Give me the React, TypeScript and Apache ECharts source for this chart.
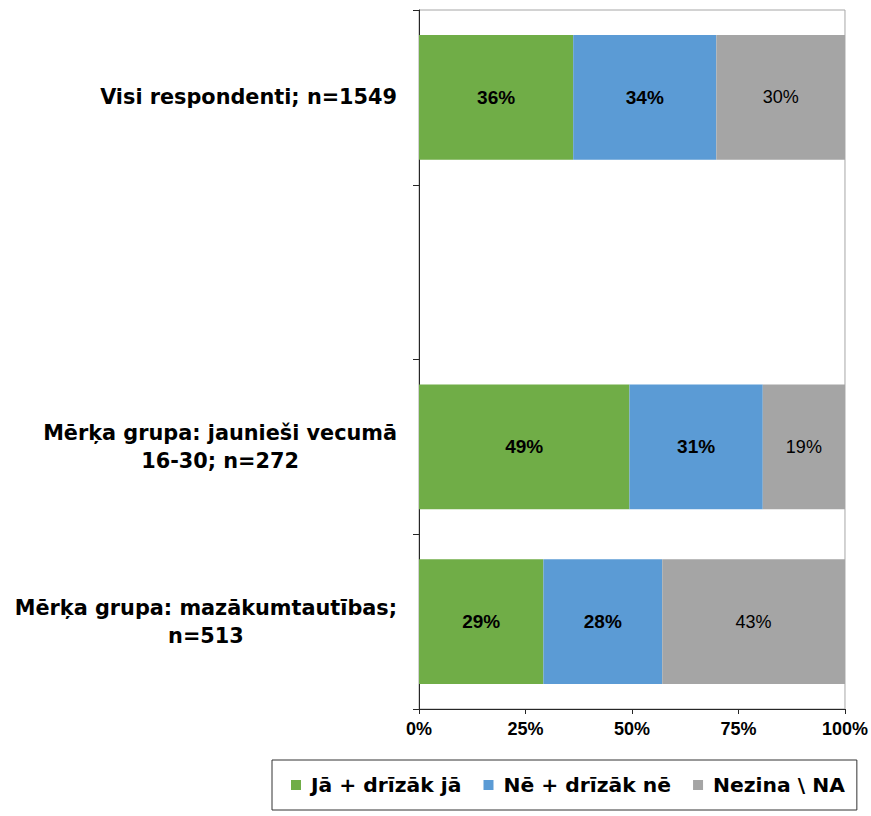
import React, { useEffect, useRef } from "react";
import * as echarts from "echarts";

const categories = [
  "Visi respondenti; n=1549",
  "",
  "Mērķa grupa: jaunieši vecumā\n16-30; n=272",
  "Mērķa grupa: mazākumtautības;\nn=513",
];
const seriesNames = ["Jā + drīzāk jā", "Nē + drīzāk nē", "Nezina \\ NA"];
const yesValues = [36.2, null, 49.4, 29.2];
const noValues = [33.6, null, 31.3, 27.9];
const dkValues = [30.2, null, 19.3, 42.9];
const xTicks = [0, 25, 50, 75, 100];
const colors = ["#70AD47", "#5B9BD5", "#A5A5A5"];

const ARIAL = "Liberation Sans, Arial, sans-serif";
const WIDE = "DejaVu Sans, Verdana, sans-serif";

export default function App() {
  const ref = useRef<HTMLDivElement>(null);
  useEffect(() => {
    if (!ref.current) return;
    const chart = echarts.init(ref.current, null, { renderer: "svg" });
    const mk = (name: string, data: (number | null)[], color: string, bold: boolean) => ({
      name,
      type: "bar",
      stack: "total",
      data,
      barCategoryGap: "28.5%",
      itemStyle: { color },
      label: {
        show: true,
        position: "inside",
        formatter: (p: any) => (p.value == null ? "" : Math.round(p.value) + "%"),
        color: "#000",
        fontFamily: ARIAL,
        fontWeight: bold ? "bold" : "normal",
        fontSize: bold ? 19 : 18,
      },
    });
    chart.setOption({
      animation: false,
      grid: {
        left: 419,
        right: 26,
        top: 10,
        bottom: 107,
        show: true,
        borderColor: "#A6A6A6",
        borderWidth: 1,
        containLabel: false,
      },
      legend: {
        left: 272,
        top: 760,
        data: seriesNames,
        itemWidth: 10,
        itemHeight: 10,
        itemGap: 22,
        icon: "rect",
        borderColor: "#333",
        borderWidth: 1,
        padding: [15, 12, 15, 19],
        textStyle: {
          fontFamily: WIDE,
          fontWeight: "bold",
          fontSize: 20.3,
          color: "#000",
          padding: [0, 0, 0, 5],
        },
      },
      xAxis: {
        type: "value",
        min: 0,
        max: 100,
        interval: 25,
        axisLine: { show: true, lineStyle: { color: "#262626", width: 1 } },
        axisTick: { show: true, length: 5, lineStyle: { color: "#262626" } },
        splitLine: { show: false },
        axisLabel: {
          formatter: (v: number) => (xTicks.includes(v) ? v + "%" : ""),
          color: "#000",
          fontFamily: ARIAL,
          fontWeight: "bold",
          fontSize: 18,
          margin: 11,
        },
      },
      yAxis: {
        type: "category",
        inverse: true,
        data: categories,
        axisLine: { show: true, lineStyle: { color: "#262626", width: 1 } },
        axisTick: { show: true, length: 6, lineStyle: { color: "#262626" } },
        axisLabel: {
          margin: 22,
          formatter: (v: string) =>
            v ? v.split("\n").map((l) => `{c|${l}}`).join("\n") : "",
          rich: {
            c: {
              align: "center",
              fontFamily: WIDE,
              fontWeight: "bold",
              fontSize: 20.8,
              lineHeight: 28,
              color: "#000",
            },
          },
        },
      },
      series: [
        mk(seriesNames[0], yesValues, colors[0], true),
        mk(seriesNames[1], noValues, colors[1], true),
        mk(seriesNames[2], dkValues, colors[2], false),
      ],
    });
    return () => chart.dispose();
  }, []);
  return (
    <div
      ref={ref}
      style={{ position: "fixed", left: 0, top: 0, width: 871, height: 816, background: "#fff" }}
    />
  );
}
